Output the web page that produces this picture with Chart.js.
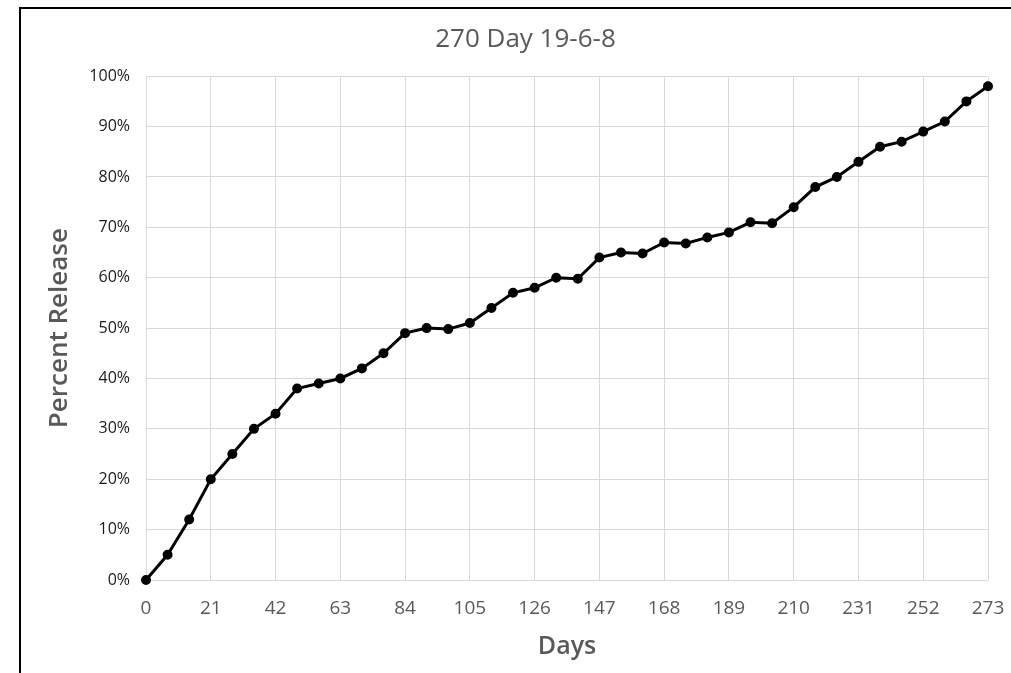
<!DOCTYPE html>
<html>
<head>
<meta charset="utf-8">
<script src="https://cdn.jsdelivr.net/npm/chart.js@4.4.1/dist/chart.umd.min.js"></script>
<style>
  html, body { margin: 0; padding: 0; background: #fff; overflow: hidden; }
  #frame { position: absolute; left: 19px; top: 7px; width: 1100px; height: 700px;
           border-left: 2px solid #000; border-top: 2px solid #000; }
  #wrap { position: absolute; left: 0; top: 0; width: 1011px; height: 673px; }
</style>
</head>
<body>
<div id="frame"></div>
<div id="wrap"><canvas id="c" width="1011" height="673"></canvas></div>
<script>
const days = [0,7,14,21,28,35,42,49,56,63,70,77,84,91,98,105,112,119,126,133,140,147,154,161,168,175,182,189,196,203,210,217,224,231,238,245,252,259,266,273];
const percentRelease = [0,5,12,20,25,30,33,38,39,40,42,45,49,50,49.8,51,54,57,58,60,59.8,64,65,64.8,67,66.8,68,69,71,70.8,74,78,80,83,86,87,89,91,95,98];
const xTicks = [0,21,42,63,84,105,126,147,168,189,210,231,252,273];
const yTicks = [0,10,20,30,40,50,60,70,80,90,100];
const chartTitle = '270 Day 19-6-8';
const xTitle = 'Days';
const yTitle = 'Percent Release';

const FONT = "'Open Sans', sans-serif";
const points = days.map((d, i) => ({ x: d, y: percentRelease[i] }));

new Chart(document.getElementById('c'), {
  type: 'line',
  data: {
    datasets: [{
      data: points,
      borderColor: '#000',
      backgroundColor: '#000',
      borderWidth: 3,
      pointRadius: 3.5,
      pointBackgroundColor: '#000',
      pointBorderColor: '#000',
      tension: 0,
      clip: false
    }]
  },
  options: {
    responsive: false,
    animation: false,
    devicePixelRatio: 1,
    layout: { padding: { left: 40, right: 0, top: 24, bottom: 11 } },
    plugins: {
      legend: { display: false },
      tooltip: { enabled: false },
      title: {
        display: true,
        text: chartTitle,
        color: '#595959',
        font: { family: FONT, size: 26, weight: 'normal' },
        padding: { top: 0, bottom: 21 }
      }
    },
    scales: {
      x: {
        type: 'linear',
        min: 0, max: 273,
        afterBuildTicks: (axis) => { axis.ticks = xTicks.map(v => ({ value: v })); },
        afterFit: (axis) => { axis.paddingRight = 23; axis.paddingLeft = 0; axis.height = 673 - 580 - 11; },
        grid: { color: '#d9d9d9', lineWidth: 1, drawTicks: false },
        border: { display: false },
        ticks: { color: '#595959', font: { family: FONT, size: 19 }, padding: 17, maxRotation: 0, autoSkip: false },
        title: { display: true, text: xTitle, color: '#595959', font: { family: FONT, size: 25, weight: '600' }, padding: { top: 9, bottom: 0 } }
      },
      y: {
        min: 0, max: 100,
        afterBuildTicks: (axis) => { axis.ticks = yTicks.map(v => ({ value: v })); },
        afterFit: (axis) => { axis.width = 146 - 40; },
        grid: { color: '#d9d9d9', lineWidth: 1, drawTicks: false },
        border: { display: false },
        ticks: { color: '#1a1a1a', font: { family: FONT, size: 16 }, padding: 16, callback: v => v + '%' },
        title: { display: true, text: yTitle, color: '#595959', font: { family: FONT, size: 26, weight: '600' }, padding: { bottom: 0 } }
      }
    }
  }
});
</script>
</body>
</html>
